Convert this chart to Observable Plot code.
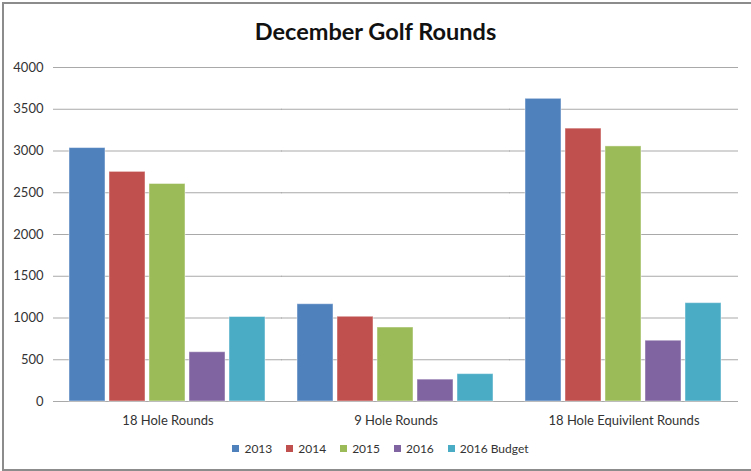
<!DOCTYPE html>
<html>
<head>
<meta charset="utf-8">
<script src="https://cdn.jsdelivr.net/npm/d3@7"></script>
<script src="https://cdn.jsdelivr.net/npm/@observablehq/plot@0.6"></script>
<style>
  html, body { margin: 0; padding: 0; background: #fff; overflow: hidden; }
  #wrap { position: relative; width: 751px; height: 471px; font-family: Lato, "Open Sans", sans-serif; }
  #border { position: absolute; left: 2px; top: 2px; width: 800px; height: 469px; box-sizing: border-box;
            border: 2px solid #8c8c8c; pointer-events: none; }
  #title { height: 50px; box-sizing: border-box; padding-top: 12px; line-height: 38px; text-align: center;
           font-weight: bold; font-size: 23.5px; color: #111; }
  #chart svg { display: block; }
  #legend { display: flex; justify-content: center; align-items: center; height: 16px; font-size: 12px; color: #333;
            padding-left: 10px; }
  .item { display: flex; align-items: center; margin: 0 7px; }
  .sw { width: 7px; height: 7px; margin-right: 5px; }
</style>
</head>
<body>
<div id="wrap">
  <div id="title">December Golf Rounds</div>
  <div id="chart"></div>
  <div id="legend"></div>
  <div id="border"></div>
</div>
<script>
const categories = ["18 Hole Rounds", "9 Hole Rounds", "18 Hole Equivilent Rounds"];
const series = ["2013", "2014", "2015", "2016", "2016 Budget"];
const colors = ["#4F81BD", "#C0504D", "#9BBB59", "#8064A2", "#4BACC6"];
const values2013 = [3035, 1165, 3625];
const values2014 = [2750, 1015, 3268];
const values2015 = [2605, 886, 3055];
const values2016 = [590, 262, 728];
const valuesBudget = [1012, 328, 1178];
const yTicks = [0, 500, 1000, 1500, 2000, 2500, 3000, 3500, 4000];

const seriesValues = [values2013, values2014, values2015, values2016, valuesBudget];
const data = [];
categories.forEach((c, i) => {
  series.forEach((s, j) => data.push({category: c, series: s, value: seriesValues[j][i]}));
});

const chart = Plot.plot({
  width: 751,
  height: 390,
  marginLeft: 53,
  marginRight: 13,
  marginTop: 17,
  marginBottom: 39,
  style: {fontFamily: "Lato, 'Open Sans', sans-serif", fontSize: "13px", color: "#333", background: "#fff"},
  fx: {domain: categories, paddingInner: 0.127, paddingOuter: 0.0635, label: null, tickSize: 0, tickPadding: 14},
  x: {domain: series, paddingInner: 0.09, paddingOuter: 0, axis: null},
  y: {domain: [0, 4000]},
  color: {domain: series, range: colors},
  marks: [
    Plot.ruleY(yTicks, {stroke: "#a9a9a9", strokeWidth: 1, insetLeft: -15, insetRight: -15}),
    Plot.axisY(yTicks, {tickSize: 0, tickPadding: 25, label: null, fontSize: 13, tickFormat: d => String(d)}),
    Plot.barY(data, {fx: "category", x: "series", y: "value", fill: "series", stroke: "#fff", strokeOpacity: 0.45, strokeWidth: 1})
  ]
});
document.getElementById("chart").appendChild(chart);

const legend = document.getElementById("legend");
series.forEach((s, i) => {
  const item = document.createElement("div");
  item.className = "item";
  const sw = document.createElement("span");
  sw.className = "sw";
  sw.style.background = colors[i];
  const t = document.createElement("span");
  t.textContent = s;
  item.appendChild(sw);
  item.appendChild(t);
  legend.appendChild(item);
});
</script>
</body>
</html>
